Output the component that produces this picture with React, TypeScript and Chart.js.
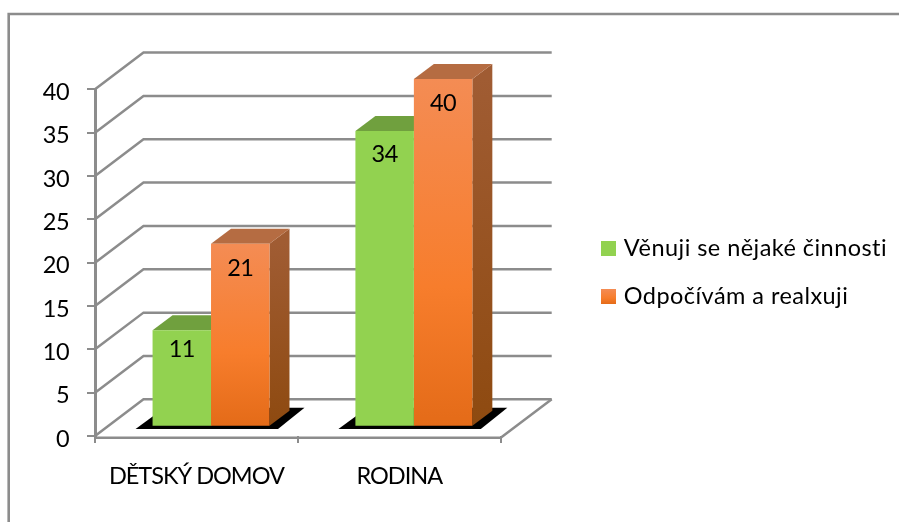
import React, { useEffect, useRef } from "react";
import { Chart, registerables } from "chart.js";

Chart.register(...registerables);

const categories = ["DĚTSKÝ DOMOV", "RODINA"];
const seriesNames = ["Věnuji se nějaké činnosti", "Odpočívám a realxuji"];
const activeValues = [11, 34];
const restValues = [21, 40];
const labelDrops = [[19, 23.6], [25, 24.4]];

const FONT = "Lato, Carlito, 'Open Sans', sans-serif";
const FONT_SIZE = 23.5;
const SPACING = "-0.55px";
const GRID = "#8c8c8c";
const DEPTH_X = 20;
const DEPTH_Y = 15;
const WALL_X = 48.5;
const WALL_Y = 36.7;
const BAR_SHIFT = 14.6;
const BASE_OFFSET = 1.188;

type Stops = [number, string][];
const frontStops: Stops[] = [
  [[0, "#92d250"], [1, "#92d250"]],
  [[0, "#f48c54"], [0.6, "#f77d2c"], [1, "#e46b18"]],
];
const sideStops: Stops[] = [
  [[0, "#6b9c3c"], [1, "#6b9c3c"]],
  [[0, "#a05c33"], [1, "#8e4a10"]],
];
const topFaces = ["#70a03e", "#b56c42"];

function gradient(ctx: CanvasRenderingContext2D, y0: number, y1: number, stops: Stops) {
  const g = ctx.createLinearGradient(0, y0, 0, y1);
  stops.forEach(([o, c]) => g.addColorStop(o, c));
  return g;
}

function swatch(stops: Stops) {
  const c = document.createElement("canvas");
  c.width = 15;
  c.height = 15;
  const ctx = c.getContext("2d")!;
  ctx.fillStyle = gradient(ctx, 0, 15, stops);
  ctx.fillRect(0, 0, 15, 15);
  return c;
}

function poly(ctx: CanvasRenderingContext2D, pts: number[][], fill: any) {
  ctx.beginPath();
  pts.forEach(([x, y], i) => (i ? ctx.lineTo(x, y) : ctx.moveTo(x, y)));
  ctx.closePath();
  ctx.fillStyle = fill;
  ctx.fill();
}

function line(ctx: CanvasRenderingContext2D, pts: number[][], width: number) {
  ctx.beginPath();
  pts.forEach(([x, y], i) => (i ? ctx.lineTo(x, y) : ctx.moveTo(x, y)));
  ctx.lineWidth = width;
  ctx.strokeStyle = GRID;
  ctx.stroke();
}

// Draws a chart part with its own letter spacing, then puts the default back.
function withSpacing(ctx: any, target: any, method: string, spacing: string) {
  const original = target[method].bind(target);
  target[method] = (...args: any[]) => {
    ctx.letterSpacing = spacing;
    original(...args);
    ctx.letterSpacing = SPACING;
  };
}

const scene = {
  id: "scene",
  beforeDraw(chart: any) {
    const { ctx, width, height } = chart;
    ctx.save();
    ctx.fillStyle = "#ffffff";
    ctx.fillRect(0, 0, width, height);
    line(ctx, [[8.7, height], [8.7, 14], [width, 14]], 2.6);
    ctx.restore();
    ctx.letterSpacing = SPACING;
  },
  afterLayout(chart: any) {
    const legend = chart.legend;
    legend.left = 580.8;
    legend.right = 899;
    legend.top = 212.8;
    legend.bottom = 340;
    if (!chart.$spaced) {
      chart.$spaced = true;
      withSpacing(chart.ctx, legend, "draw", "0.45px");
      withSpacing(chart.ctx, chart.scales.x, "drawLabels", "-1px");
    }
  },
  beforeDatasetsDraw(chart: any) {
    const { ctx, chartArea, scales } = chart;
    const { left, right, bottom } = chartArea;
    ctx.save();
    ctx.lineCap = "butt";
    // walls
    scales.y.ticks.forEach((t: any) => {
      const y = scales.y.getPixelForValue(t.value);
      line(ctx, [[left, y], [left + WALL_X, y - WALL_Y], [right + WALL_X + 2.5, y - WALL_Y]], 2.5);
    });
    // floor
    line(ctx, [[left, bottom + 1.7], [right, bottom + 1.7], [right + WALL_X + 2.5, bottom - WALL_Y]], 2.5);

    const m0 = chart.getDatasetMeta(0).data;
    const m1 = chart.getDatasetMeta(1).data;
    // floor shadows
    m0.forEach((bar: any, i: number) => {
      const l = bar.x - bar.width / 2 + BAR_SHIFT;
      const r = m1[i].x + m1[i].width / 2 + BAR_SHIFT;
      const b = bar.base;
      poly(ctx, [[l - 17, b + 3.2], [r + 8.5, b + 3.2], [r + 35, b - 18], [l + 12, b - 18]], "#000000");
    });
    // side and top faces
    [m0, m1].forEach((meta: any[], s: number) => {
      meta.forEach((bar: any) => {
        const l = bar.x - bar.width / 2 + BAR_SHIFT;
        const r = l + bar.width;
        poly(ctx, [[r, bar.y], [r + DEPTH_X, bar.y - DEPTH_Y], [r + DEPTH_X, bar.base - DEPTH_Y], [r, bar.base]],
          gradient(ctx, bar.y, bar.base, sideStops[s]));
        poly(ctx, [[l, bar.y], [l + DEPTH_X, bar.y - DEPTH_Y], [r + DEPTH_X, bar.y - DEPTH_Y], [r, bar.y]], topFaces[s]);
      });
    });
    ctx.restore();
    ctx.save();
    ctx.translate(BAR_SHIFT, 0);
  },
  afterDatasetsDraw(chart: any) {
    const { ctx } = chart;
    ctx.restore();
    ctx.save();
    ctx.font = `${FONT_SIZE}px ${FONT}`;
    ctx.fillStyle = "#000000";
    ctx.textAlign = "center";
    ctx.textBaseline = "middle";
    chart.data.datasets.forEach((ds: any, s: number) => {
      chart.getDatasetMeta(s).data.forEach((bar: any, i: number) => {
        ctx.fillText(String(ds.data[i]), bar.x + BAR_SHIFT, bar.y + labelDrops[s][i]);
      });
    });
    ctx.restore();
  },
};

export default function App() {
  const ref = useRef<HTMLCanvasElement>(null);
  useEffect(() => {
    const swatches = [swatch(frontStops[0]), swatch(frontStops[1])];
    const fill = (s: number) => (c: any) => {
      if (!c.parsed) return frontStops[s][0][1];
      const sc = c.chart.scales.yBar;
      return gradient(c.chart.ctx, sc.getPixelForValue(c.parsed.y), sc.getPixelForValue(0), frontStops[s]);
    };
    const chart = new Chart(ref.current!, {
      type: "bar",
      data: {
        labels: categories,
        datasets: [
          { label: seriesNames[0], data: activeValues, yAxisID: "yBar", backgroundColor: fill(0), clip: false },
          { label: seriesNames[1], data: restValues, yAxisID: "yBar", backgroundColor: fill(1), clip: false },
        ],
      },
      plugins: [scene],
      options: {
        responsive: false,
        animation: false,
        events: [],
        layout: { padding: { left: 0, top: 89.3, right: 398.3, bottom: 0 } },
        datasets: { bar: { categoryPercentage: 0.5764, barPercentage: 1 } },
        scales: {
          x: {
            grid: { drawOnChartArea: false, color: GRID, lineWidth: 2, tickLength: 7 },
            border: { display: false },
            ticks: { color: "#000000", font: { family: FONT, size: FONT_SIZE }, padding: 19.5, maxRotation: 0 },
            afterFit: (s: any) => { s.height = 86; },
          },
          y: {
            min: 0,
            max: 40,
            grid: { drawOnChartArea: false, color: GRID, lineWidth: 2, tickLength: 8 },
            border: { display: true, color: GRID, width: 3 },
            ticks: { stepSize: 5, color: "#000000", font: { family: FONT, size: FONT_SIZE }, padding: 18, labelOffset: 3 },
            afterFit: (s: any) => { s.width = 95; },
          },
          yBar: { display: false, min: -BASE_OFFSET, max: 40 - BASE_OFFSET },
        },
        plugins: {
          title: { display: false },
          tooltip: { enabled: false },
          legend: {
            position: "chartArea",
            align: "start",
            labels: {
              usePointStyle: true,
              boxWidth: 7,
              boxHeight: 7,
              padding: 24.2,
              color: "#000000",
              font: { family: FONT, size: FONT_SIZE },
              generateLabels: (c: any) =>
                c.data.datasets.map((d: any, i: number) => ({
                  text: d.label,
                  pointStyle: swatches[i],
                  datasetIndex: i,
                  hidden: false,
                  lineWidth: 0,
                  strokeStyle: "transparent",
                  fillStyle: frontStops[i][0][1],
                })),
            },
          },
        },
      } as any,
    });
    return () => chart.destroy();
  }, []);
  return (
    <div style={{ position: "absolute", left: 0, top: 0, width: 899, height: 522 }}>
      <canvas ref={ref} width={899} height={522} style={{ display: "block" }} />
    </div>
  );
}
